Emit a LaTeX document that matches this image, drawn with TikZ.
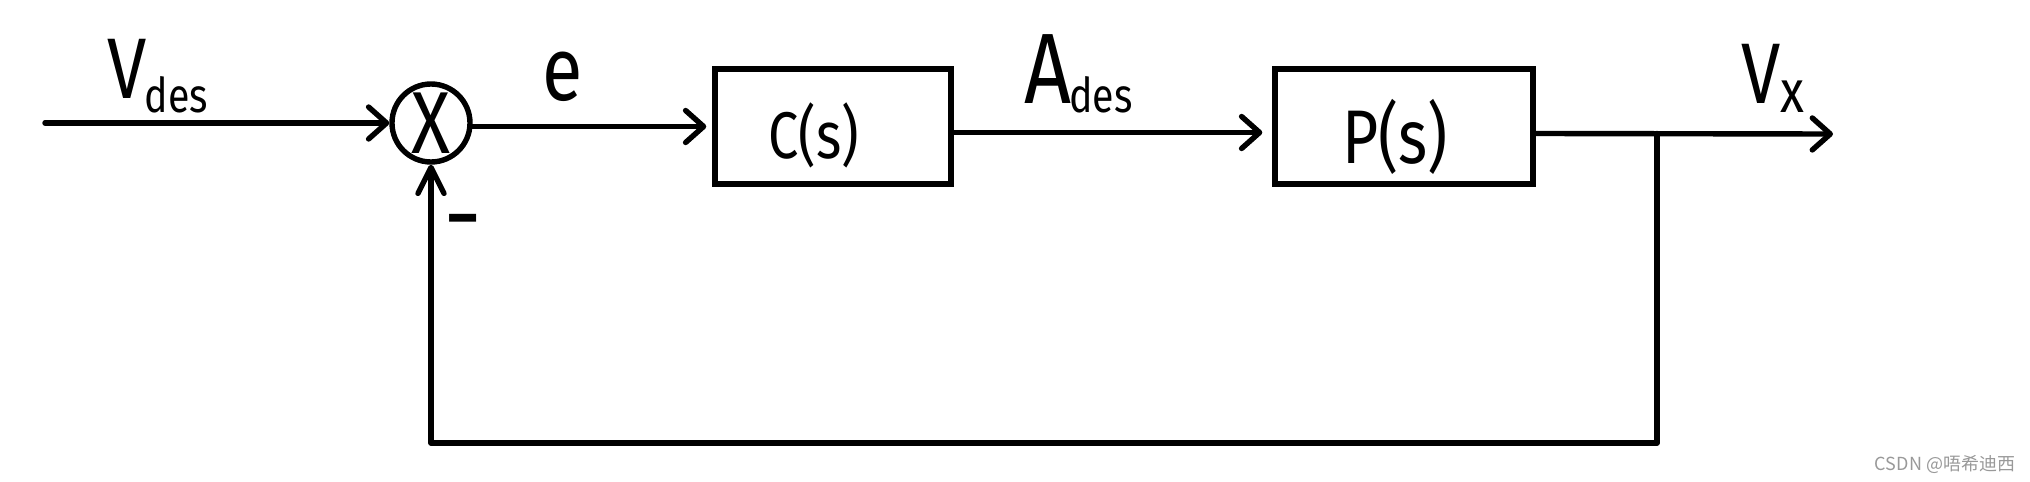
\documentclass[tikz,border=0pt]{standalone}
\usepackage{fontspec}
\setmainfont{Fira Sans}
\newfontfamily\hand[FakeStretch=0.82]{Fira Sans}
\newfontfamily\cjk{Noto Sans CJK SC}
\usetikzlibrary{arrows.meta}
\newcommand{\fsz}[1]{\fontsize{#1}{#1}\selectfont}
\definecolor{wmgray}{HTML}{999999}
\begin{document}
\begin{tikzpicture}[x=0.5pt,y=-0.5pt,
  wire/.style={line width=2.7pt, line cap=round, line join=round},
  fwd/.style={-{Straight Barb[length=9pt,width=16pt,round]}},
  fbk/.style={-{Straight Barb[length=13pt,width=13pt,round]}},
  block/.style={draw, line width=2.7pt, minimum width=118pt, minimum height=57.5pt, inner sep=0pt},
  lbl/.style={inner sep=0pt, font=\hand},
]
\useasboundingbox (0,0) rectangle (2030,482);

% blocks
\node[draw, circle, line width=2.7pt, minimum size=39pt, inner sep=0pt, font={\hand\fsz{44}}] (sum) at (431,123) {X};
\node[block] (C) at (833,126.5) {};
\node[block, minimum width=129pt] (P) at (1404,126.5) {};
\node[lbl, font={\hand\fsz{33}}] (Ct) at (814,135) {C(s)};
\node[lbl, font={\hand\fsz{38}}] (Pt) at (1395,137) {P(s)};

% labels
\node[lbl, anchor=base west] (vdes) at (107,98) {\fsz{43}V\kern-1pt\raisebox{-7pt}{\fsz{24}des}};
\node[lbl, anchor=base] (e) at (563,100) {\fsz{45}e};
\node[lbl, anchor=base west] (ades) at (1024,103) {\fsz{50}A\kern-1pt\raisebox{-4.5pt}{\fsz{24}des}};
\node[lbl, anchor=base west] (vx) at (1741,103) {\fsz{43}V\kern0pt\raisebox{-5pt}{\fsz{30}x}};
\node[inner sep=0pt, anchor=base, font={\bfseries\fsz{32}}] (minus) at (463,239) {−};
\node[inner sep=0pt, font={\cjk\fsz{9}}, text=wmgray] (wm) at (1945,464) {CSDN @唔希迪西};

% coordinates
\coordinate (in) at (45,123);
\coordinate (out) at (1833,134);
\coordinate (br) at (1657,133.5);
\coordinate (bc) at (1657,443);
\coordinate (bl) at (431,443);

% connectors
\draw[wire,fwd] (in) -- (sum.west);
\draw[wire,fwd,shorten >=3pt] (sum.east |- C.west) -- (C.west);
\draw[wire,fwd,shorten >=5pt] ([yshift=-3pt]C.east) -- ([yshift=-3pt]P.west);
\draw[wire,fwd] ([yshift=-3.5pt]P.east) -- (out);
\draw[wire,fbk] (br) -- (bc) -- (bl) -- (sum.south);
\end{tikzpicture}
\end{document}
